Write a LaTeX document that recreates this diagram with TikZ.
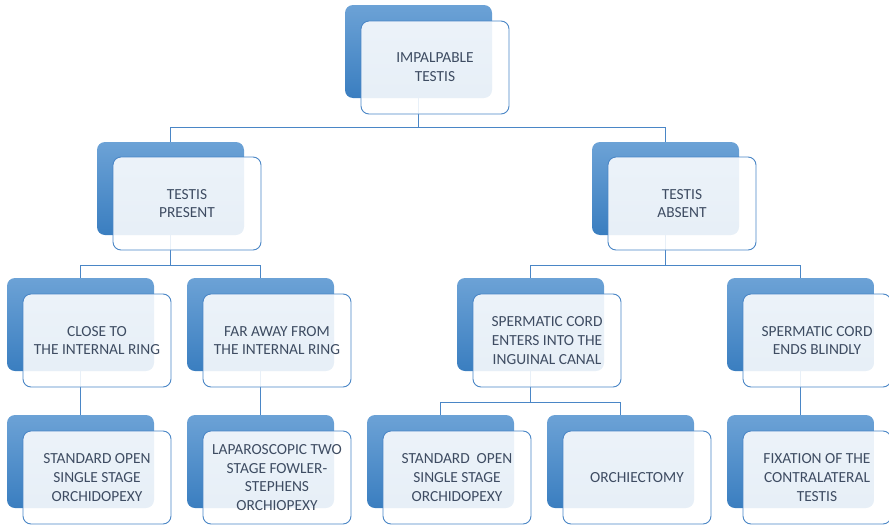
\documentclass[tikz,border=0pt]{standalone}
\usepackage{fontspec}
\setmainfont{Carlito}
\usetikzlibrary{shadings}
\definecolor{blueTop}{HTML}{6CA2D6}
\definecolor{blueBot}{HTML}{3A7EC0}
\definecolor{edgeBlue}{HTML}{4A86C6}
\definecolor{txt}{HTML}{3E4C62}
\tikzset{
  backbox/.style={rectangle, rounded corners=8pt, minimum width=147pt, minimum height=93pt,
    inner sep=0pt, outer sep=0pt, anchor=north west, top color=blueTop, bottom color=blueBot, draw=none},
  frontbox/.style={rectangle, rounded corners=8pt, minimum width=148pt, minimum height=93pt,
    inner sep=0pt, outer sep=0pt, anchor=north west, draw=edgeBlue, line width=0.9pt,
    fill=white, fill opacity=0.88, text opacity=1, text=txt, align=center,
    font=\fontsize{15.4pt}{18.8pt}\selectfont},
  link/.style={draw=edgeBlue, line width=1pt}
}
\begin{document}
\begin{tikzpicture}[x=1pt,y=-1pt]
\useasboundingbox (0,0) rectangle (889,525);
% back boxes
\node[backbox] (rootB) at (345,5) {};
\node[backbox] (tpB) at (97,142) {};
\node[backbox] (taB) at (592,142) {};
\node[backbox] (closeB) at (7,278) {};
\node[backbox] (farB) at (187,278) {};
\node[backbox] (entB) at (457,278) {};
\node[backbox] (blindB) at (727,278) {};
\node[backbox] (std1B) at (7,415) {};
\node[backbox] (lapB) at (187,415) {};
\node[backbox] (std2B) at (367,415) {};
\node[backbox] (orchB) at (547,415) {};
\node[backbox] (fixB) at (727,415) {};
% connectors
\draw[link] (rootB.south) -- ++(0,29) -| (tpB.north);
\draw[link] (rootB.south) -- ++(0,29) -| (taB.north);
\draw[link] (tpB.south) -- ++(0,30) -| (closeB.north);
\draw[link] (tpB.south) -- ++(0,30) -| (farB.north);
\draw[link] (taB.south) -- ++(0,30) -| (entB.north);
\draw[link] (taB.south) -- ++(0,30) -| (blindB.north);
\draw[link] (closeB.south) -- (std1B.north);
\draw[link] (farB.south) -- (lapB.north);
\draw[link] (entB.south) -- ++(0,31) -| (std2B.north);
\draw[link] (entB.south) -- ++(0,31) -| (orchB.north);
\draw[link] (blindB.south) -- (fixB.north);
% front boxes
\node[frontbox] (root) at (361,21) {IMPALPABLE\\TESTIS};
\node[frontbox] (tp) at (113,157) {TESTIS\\PRESENT};
\node[frontbox] (ta) at (608,157) {TESTIS\\ABSENT};
\node[frontbox] (close) at (23,294) {CLOSE TO\\THE INTERNAL RING};
\node[frontbox] (far) at (203,294) {FAR AWAY FROM\\THE INTERNAL RING};
\node[frontbox] (ent) at (473,294) {SPERMATIC CORD\\ENTERS INTO THE\\INGUINAL CANAL};
\node[frontbox] (blind) at (743,294) {SPERMATIC CORD\\ENDS BLINDLY};
\node[frontbox] (std1) at (23,431) {STANDARD OPEN\\SINGLE STAGE\\ORCHIDOPEXY};
\node[frontbox] (lap) at (203,431) {LAPAROSCOPIC TWO\\STAGE FOWLER-\\STEPHENS\\ORCHIOPEXY};
\node[frontbox] (std2) at (383,431) {STANDARD\ \ OPEN\\SINGLE STAGE\\ORCHIDOPEXY};
\node[frontbox] (orch) at (563,431) {ORCHIECTOMY};
\node[frontbox] (fix) at (743,431) {FIXATION OF THE\\CONTRALATERAL\\TESTIS};
\end{tikzpicture}
\end{document}
